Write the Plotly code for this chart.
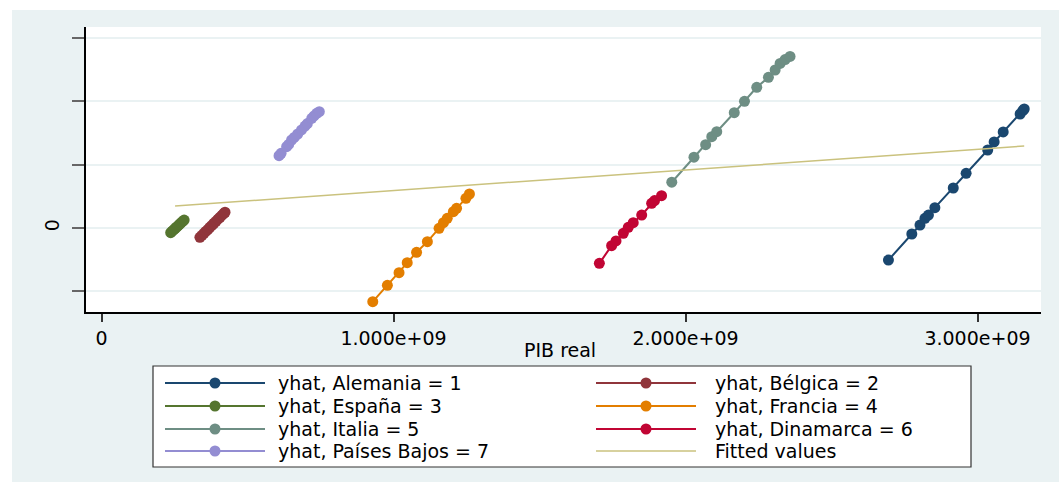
import plotly.graph_objects as go

# ---- data (PIB real in units of 1e9, yhat in units of 1e9) ----
alemania_x = [2.695, 2.775, 2.803, 2.820, 2.832, 2.854, 2.917, 2.961, 3.035, 3.057, 3.088, 3.146, 3.155, 3.160]
alemania_y = [-0.506, -0.095, 0.047, 0.153, 0.205, 0.321, 0.632, 0.864, 1.232, 1.359, 1.517, 1.801, 1.853, 1.880]

belgica_x = [0.337, 0.344, 0.351, 0.357, 0.364, 0.371, 0.378, 0.385, 0.392, 0.399, 0.406, 0.413, 0.419, 0.423]
belgica_y = [-0.147, -0.116, -0.084, -0.055, -0.024, 0.010, 0.041, 0.075, 0.105, 0.139, 0.170, 0.202, 0.231, 0.249]

espana_x = [0.237, 0.242, 0.247, 0.252, 0.257, 0.262, 0.267, 0.272, 0.277, 0.283]
espana_y = [-0.074, -0.051, -0.031, -0.008, 0.014, 0.035, 0.056, 0.080, 0.101, 0.126]

francia_x = [0.929, 0.979, 1.019, 1.047, 1.079, 1.116, 1.156, 1.171, 1.184, 1.205, 1.216, 1.248, 1.260]
francia_y = [-1.164, -0.905, -0.706, -0.548, -0.384, -0.216, -0.005, 0.084, 0.153, 0.257, 0.311, 0.469, 0.537]

italia_x = [1.953, 2.029, 2.069, 2.090, 2.107, 2.167, 2.202, 2.244, 2.284, 2.307, 2.324, 2.341, 2.358]
italia_y = [0.723, 1.118, 1.316, 1.442, 1.521, 1.821, 2.001, 2.223, 2.380, 2.496, 2.600, 2.660, 2.710]

dinamarca_x = [1.705, 1.747, 1.762, 1.787, 1.804, 1.821, 1.850, 1.884, 1.894, 1.918]
dinamarca_y = [-0.558, -0.280, -0.205, -0.084, 0.011, 0.084, 0.205, 0.390, 0.434, 0.510]

paises_bajos_x = [0.608, 0.615, 0.634, 0.641, 0.651, 0.660, 0.672, 0.685, 0.697, 0.705, 0.720, 0.728, 0.737, 0.746]
paises_bajos_y = [1.142, 1.180, 1.284, 1.320, 1.390, 1.430, 1.485, 1.550, 1.611, 1.650, 1.732, 1.770, 1.811, 1.837]

fitted_x = [0.252, 3.160]
fitted_y = [0.348, 1.295]

x_tickvals = [0, 1, 2, 3]
x_ticktext = ["0", "1.000e+09", "2.000e+09", "3.000e+09"]
y_tickvals = [-1, 0, 1, 2, 3]
y_ticktext = ["", "0", "", "", ""]

SCALE = 1e9

series = [
    ("yhat, Alemania = 1", alemania_x, alemania_y, "#1A476F"),
    ("yhat, Bélgica = 2", belgica_x, belgica_y, "#90353B"),
    ("yhat, España = 3", espana_x, espana_y, "#55752F"),
    ("yhat, Francia = 4", francia_x, francia_y, "#E37E00"),
    ("yhat, Italia = 5", italia_x, italia_y, "#6E8E84"),
    ("yhat, Dinamarca = 6", dinamarca_x, dinamarca_y, "#C10534"),
    ("yhat, Países Bajos = 7", paises_bajos_x, paises_bajos_y, "#938DD2"),
]
fitted_name = "Fitted values"
fitted_color = "#CAC27E"

W, H = 1059, 482
FONT = "DejaVu Sans, Liberation Sans, Arial, sans-serif"
FS = 19
BG = "#EAF2F3"


def px(x):
    return x / W


def py(y):
    return 1 - y / H


# plot area in pixels
PL, PR, PT, PB = 86, 1041, 27, 312

fig = go.Figure()

for name, xs, ys, color in series:
    fig.add_trace(go.Scatter(
        x=[v * SCALE for v in xs], y=[v * SCALE for v in ys],
        mode="lines+markers", name=name, showlegend=False,
        line=dict(color=color, width=2),
        marker=dict(color=color, size=11, symbol="circle"),
    ))

fig.add_trace(go.Scatter(
    x=[v * SCALE for v in fitted_x], y=[v * SCALE for v in fitted_y],
    mode="lines", name=fitted_name, showlegend=False,
    line=dict(color=fitted_color, width=1.5),
))

shapes = [
    # outer graph region
    dict(type="rect", xref="paper", yref="paper", x0=px(12), x1=1, y0=0, y1=py(10),
         fillcolor=BG, line=dict(width=0), layer="below"),
    # plot region
    dict(type="rect", xref="paper", yref="paper", x0=px(PL), x1=px(PR), y0=py(PB), y1=py(PT),
         fillcolor="white", line=dict(width=0), layer="below"),
    # legend box
    dict(type="rect", xref="paper", yref="paper", x0=px(153), x1=px(971), y0=py(467), y1=py(366),
         fillcolor="white", line=dict(color="#333333", width=1.2), layer="below"),
]

annotations = [
    dict(text="PIB real", xref="paper", yref="paper", x=px(560), y=py(350),
         xanchor="center", yanchor="middle", showarrow=False,
         font=dict(family=FONT, size=FS, color="black")),
]

# legend: two columns filled row by row
legend_items = [(n, c, True, 2) for n, _, _, c in series] + [(fitted_name, fitted_color, False, 1.5)]
col_line_x = [165, 596]
col_text_x = [276, 713]
row_y = [383, 406, 429, 451]
for i, (name, color, has_marker, lw) in enumerate(legend_items):
    col, row = i % 2, i // 2
    x0 = col_line_x[col]
    yy = row_y[row]
    shapes.append(dict(type="line", xref="paper", yref="paper",
                       x0=px(x0), x1=px(x0 + 100), y0=py(yy), y1=py(yy),
                       line=dict(color=color, width=lw)))
    if has_marker:
        r = 5.5
        shapes.append(dict(type="circle", xref="paper", yref="paper",
                           x0=px(x0 + 50 - r), x1=px(x0 + 50 + r),
                           y0=py(yy + r), y1=py(yy - r),
                           fillcolor=color, line=dict(color=color, width=0)))
    annotations.append(dict(text=name, xref="paper", yref="paper",
                            x=px(col_text_x[col]), y=py(yy),
                            xanchor="left", yanchor="middle", showarrow=False,
                            font=dict(family=FONT, size=FS, color="black")))

x_lo = (PL - 101.5) / 292
x_hi = (PR - 101.5) / 292
y_lo = -(PB - 228) / 63.3
y_hi = (228 - PT) / 63.3

fig.update_layout(
    width=W, height=H,
    margin=dict(l=0, r=0, t=0, b=0),
    paper_bgcolor="white",
    plot_bgcolor="white",
    font=dict(family=FONT, size=FS, color="black"),
    showlegend=False,
    shapes=shapes,
    annotations=annotations,
    xaxis=dict(
        domain=[px(PL), px(PR)],
        range=[x_lo * SCALE, x_hi * SCALE],
        tickvals=[v * SCALE for v in x_tickvals], ticktext=x_ticktext,
        ticks="outside", ticklen=8, tickwidth=1.5, tickcolor="#333333",
        showline=True, linecolor="black", linewidth=1.5,
        showgrid=False, zeroline=False,
        tickfont=dict(family=FONT, size=FS, color="black"),
    ),
    yaxis=dict(
        domain=[py(PB), py(PT)],
        range=[y_lo * SCALE, y_hi * SCALE],
        tickvals=[v * SCALE for v in y_tickvals], ticktext=y_ticktext,
        tickangle=-90,
        ticks="outside", ticklen=12, tickwidth=1.5, tickcolor="#666666",
        ticklabelstandoff=6,
        showline=True, linecolor="black", linewidth=1.5,
        showgrid=True, gridcolor=BG, gridwidth=1.5, zeroline=False,
        tickfont=dict(family=FONT, size=FS, color="black"),
    ),
)

fig.write_html("out.html")
